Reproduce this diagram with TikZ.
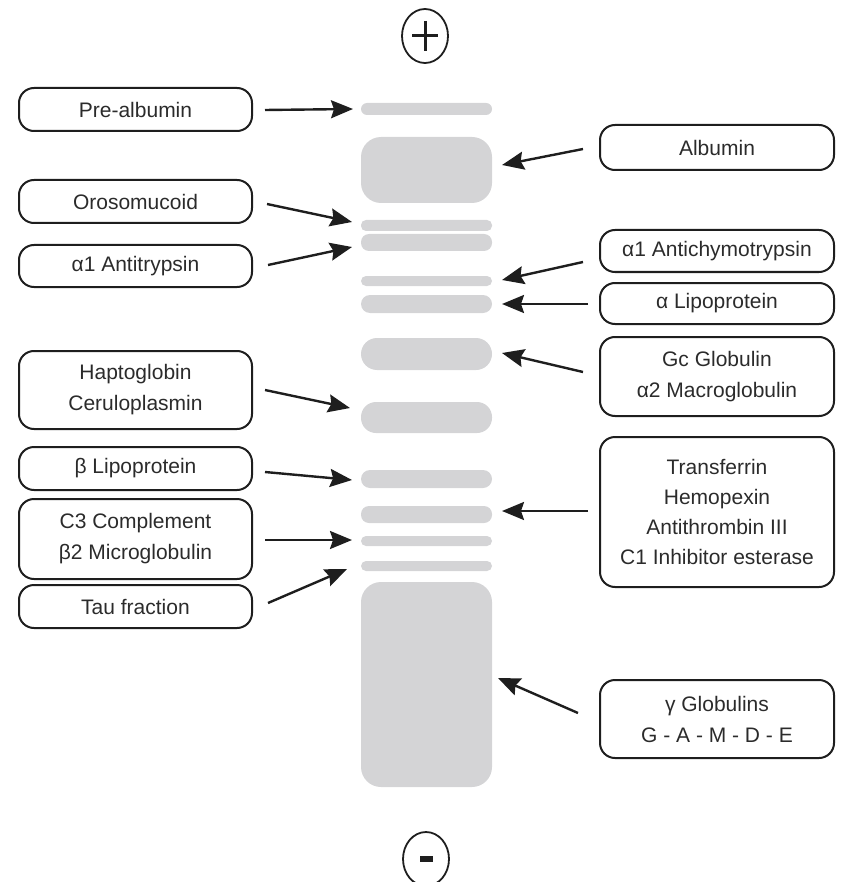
\documentclass[tikz,border=0pt]{standalone}
\usepackage{fontspec}
\setmainfont{Liberation Sans}
\usetikzlibrary{arrows.meta,shapes.geometric}
\definecolor{bandgray}{HTML}{D4D4D6}
\definecolor{ink}{HTML}{1E1E1E}
\definecolor{txt}{HTML}{2B2B2B}
\begin{document}
\begin{tikzpicture}[x=1pt,y=-1pt,
  lbl/.style={draw=ink, line width=2pt, rounded corners=15pt, minimum width=233pt,
    inner sep=0pt, align=center, text=txt, font=\fontsize{21}{31}\selectfont},
  bandbox/.style={fill=bandgray, draw=none, minimum width=131pt, inner sep=0pt},
  arr/.style={draw=ink, line width=2.4pt, -{Stealth[length=22pt,width=18pt,inset=3pt]}},
  pole/.style={draw=ink, ellipse, line width=1.8pt, minimum width=46pt, minimum height=54pt, inner sep=0pt}]
\useasboundingbox (0,0) rectangle (842,882);

% electrodes
\node[pole] (plus) at (425,36) {};
\draw[ink, line width=3pt] ([xshift=-13pt]plus.center) -- ([xshift=13pt]plus.center);
\draw[ink, line width=3pt] ([yshift=15pt]plus.center) -- ([yshift=-15pt]plus.center);
\node[pole] (minus) at (426,859) {};
\fill[ink] ([xshift=-6.5pt,yshift=-3pt]minus.center) rectangle ([xshift=6.5pt,yshift=3pt]minus.center);

% bands
\node[bandbox, minimum height=12pt, rounded corners=6pt]  (b1)  at (426.5,109) {};
\node[bandbox, minimum height=66pt, rounded corners=20pt] (b2)  at (426.5,170) {};
\node[bandbox, minimum height=11pt, rounded corners=5pt]  (b3)  at (426.5,225.5) {};
\node[bandbox, minimum height=17pt, rounded corners=8pt]  (b4)  at (426.5,242.5) {};
\node[bandbox, minimum height=10pt, rounded corners=5pt]  (b5)  at (426.5,281) {};
\node[bandbox, minimum height=18pt, rounded corners=9pt]  (b6)  at (426.5,304) {};
\node[bandbox, minimum height=32pt, rounded corners=16pt] (b7)  at (426.5,354) {};
\node[bandbox, minimum height=31pt, rounded corners=15pt] (b8)  at (426.5,417.5) {};
\node[bandbox, minimum height=18pt, rounded corners=9pt]  (b9)  at (426.5,479) {};
\node[bandbox, minimum height=17pt, rounded corners=8pt]  (b10) at (426.5,514.5) {};
\node[bandbox, minimum height=10pt, rounded corners=5pt]  (b11) at (426.5,541) {};
\node[bandbox, minimum height=10pt, rounded corners=5pt]  (b12) at (426.5,566) {};
\node[bandbox, minimum height=205pt, rounded corners=20pt] (b13) at (426.5,684.5) {};

% left labels
\node[lbl, minimum height=43pt] (pA)   at (135.5,109.5) {Pre-albumin};
\node[lbl, minimum height=43pt] (oro)  at (135.5,201.5) {Orosomucoid};
\node[lbl, minimum height=42pt] (a1at) at (135.5,266) {α1 Antitrypsin};
\node[lbl, minimum height=78pt] (hap)  at (135.5,390) {Haptoglobin\\Ceruloplasmin};
\node[lbl, minimum height=43pt] (blip) at (135.5,468.5) {β Lipoprotein};
\node[lbl, minimum height=80pt] (c3)   at (135.5,539) {C3 Complement\\β2 Microglobulin};
\node[lbl, minimum height=43pt] (tau)  at (135.5,606.5) {Tau fraction};

% right labels
\node[lbl, minimum width=234pt, minimum height=45pt]  (alb)  at (717,147.5) {Albumin};
\node[lbl, minimum width=234pt, minimum height=42pt]  (achy) at (717,251) {α1 Antichymotrypsin};
\node[lbl, minimum width=234pt, minimum height=41pt]  (alip) at (717,303.5) {α Lipoprotein};
\node[lbl, minimum width=234pt, minimum height=79pt]  (gc)   at (717,376.5) {Gc Globulin\\α2 Macroglobulin};
\node[lbl, minimum width=234pt, minimum height=150pt, font=\fontsize{21}{30}\selectfont] (trf) at (717,512) {Transferrin\\Hemopexin\\Antithrombin III\\C1 Inhibitor esterase};
\node[lbl, minimum width=234pt, minimum height=78pt]  (gam)  at (717,719) {γ Globulins\\G - A - M - D - E};

% arrow end points
\coordinate (sL1) at (265,110);  \coordinate (eL1) at (353,109);
\coordinate (sL2) at (267,204);  \coordinate (eL2) at (352,222);
\coordinate (sL3) at (268,265);  \coordinate (eL3) at (352,247);
\coordinate (sL4) at (265,390);  \coordinate (eL4) at (350,408);
\coordinate (sL5) at (265,472);  \coordinate (eL5) at (352,480);
\coordinate (sL6) at (265,540);  \coordinate (eL6) at (352,540);
\coordinate (sL7) at (268,603);  \coordinate (eL7) at (347,569);
\coordinate (sR1) at (583,149);  \coordinate (eR1) at (502,165);
\coordinate (sR2) at (583,262);  \coordinate (eR2) at (502,280);
\coordinate (sR3) at (588,304);  \coordinate (eR3) at (502,304);
\coordinate (sR4) at (583,372);  \coordinate (eR4) at (502,353);
\coordinate (sR5) at (588,511);  \coordinate (eR5) at (502,511);
\coordinate (sR6) at (578,713);  \coordinate (eR6) at (498,678);

\draw[arr] (sL1) -- (eL1);
\draw[arr] (sL2) -- (eL2);
\draw[arr] (sL3) -- (eL3);
\draw[arr] (sL4) -- (eL4);
\draw[arr] (sL5) -- (eL5);
\draw[arr] (sL6) -- (eL6);
\draw[arr] (sL7) -- (eL7);
\draw[arr] (sR1) -- (eR1);
\draw[arr] (sR2) -- (eR2);
\draw[arr] (sR3) -- (eR3);
\draw[arr] (sR4) -- (eR4);
\draw[arr] (sR5) -- (eR5);
\draw[arr] (sR6) -- (eR6);
\end{tikzpicture}
\end{document}
